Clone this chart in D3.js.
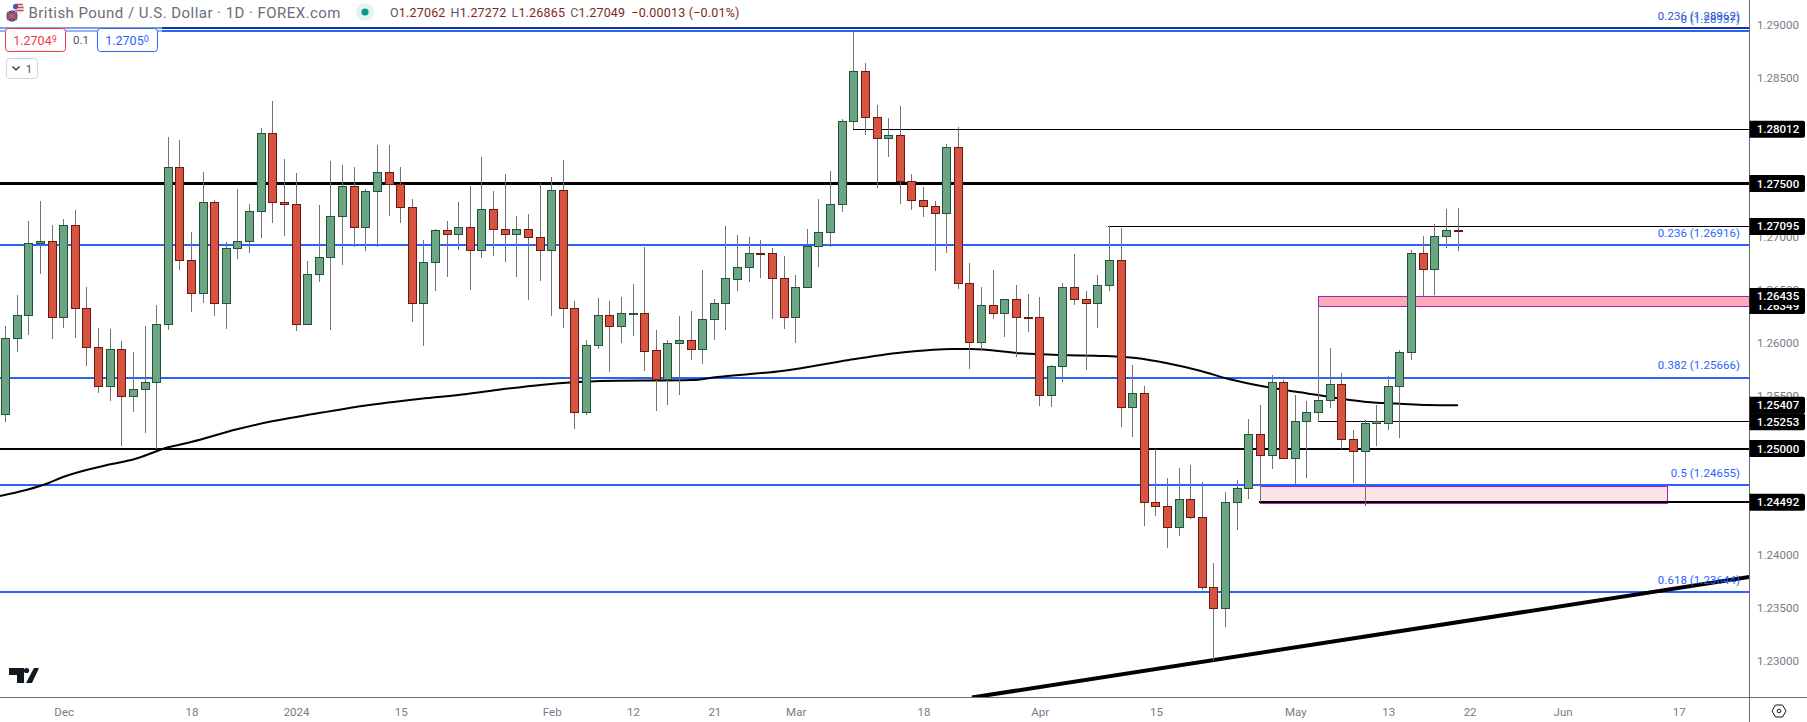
<!DOCTYPE html>
<html><head><meta charset="utf-8">
<style>html,body{margin:0;padding:0;background:#fff;overflow:hidden}svg{display:block}text{font-family:Roboto,sans-serif}</style>
<script src="https://cdn.jsdelivr.net/npm/d3@7/dist/d3.min.js"></script>
</head><body><svg id="c" width="1807" height="722"></svg>
<script>
const title = "British Pound / U.S. Dollar · 1D · FOREX.com";
const opens = [1.25330,1.26038,1.26264,1.26940,1.26953,1.26236,1.27104,1.26330,1.25953,1.25594,1.25934,1.25491,1.25557,1.25623,1.26170,1.27660,1.26783,1.26469,1.27321,1.26374,1.26896,1.26962,1.27245,1.27981,1.27330,1.27311,1.26170,1.26642,1.26811,1.27189,1.27481,1.27091,1.27425,1.27604,1.27500,1.27274,1.26374,1.26764,1.27057,1.27028,1.27085,1.26868,1.27255,1.27075,1.27019,1.27075,1.26991,1.26877,1.27434,1.26330,1.25346,1.25972,1.26255,1.26157,1.26280,1.26283,1.25925,1.25651,1.25991,1.26019,1.25940,1.26217,1.26374,1.26601,1.26708,1.26849,1.26840,1.26613,1.26242,1.26519,1.26915,1.27047,1.27311,1.28085,1.28566,1.28132,1.27925,1.27962,1.27528,1.27340,1.27292,1.27217,1.27849,1.26566,1.26009,1.26358,1.26274,1.26406,1.26236,1.26236,1.25506,1.25774,1.26519,1.26415,1.26368,1.26547,1.26774,1.25396,1.25528,1.24491,1.24453,1.24255,1.24528,1.24358,1.23689,1.23491,1.24491,1.24629,1.25141,1.24934,1.25623,1.24915,1.25264,1.25340,1.25462,1.25613,1.25085,1.24972,1.25236,1.25245,1.25585,1.25915,1.26849,1.26689,1.27009,1.27062];
const closes = [1.26038,1.26264,1.26943,1.26956,1.26236,1.27104,1.26330,1.25953,1.25594,1.25934,1.25491,1.25557,1.25623,1.26170,1.27660,1.26783,1.26469,1.27321,1.26374,1.26896,1.26962,1.27245,1.27981,1.27327,1.27308,1.26170,1.26642,1.26811,1.27189,1.27481,1.27091,1.27425,1.27604,1.27500,1.27274,1.26374,1.26764,1.27057,1.27028,1.27085,1.26868,1.27255,1.27075,1.27019,1.27075,1.26991,1.26877,1.27434,1.26330,1.25346,1.25972,1.26255,1.26157,1.26274,1.26283,1.25921,1.25651,1.25991,1.26019,1.25940,1.26217,1.26377,1.26604,1.26708,1.26849,1.26846,1.26613,1.26242,1.26519,1.26915,1.27047,1.27311,1.28085,1.28566,1.28132,1.27925,1.27962,1.27528,1.27340,1.27292,1.27217,1.27849,1.26566,1.26009,1.26358,1.26274,1.26406,1.26236,1.26233,1.25506,1.25774,1.26519,1.26415,1.26368,1.26547,1.26774,1.25396,1.25528,1.24491,1.24453,1.24255,1.24528,1.24358,1.23689,1.23491,1.24491,1.24629,1.25141,1.24934,1.25623,1.24912,1.25264,1.25340,1.25462,1.25613,1.25085,1.24972,1.25236,1.25255,1.25585,1.25915,1.26849,1.26689,1.27009,1.27062,1.27049];
const highs = [1.26154,1.26446,1.27145,1.27333,1.27107,1.27164,1.27248,1.26519,1.26135,1.26123,1.26013,1.25909,1.26154,1.26352,1.27937,1.27909,1.27041,1.27613,1.27343,1.26950,1.27447,1.27305,1.28022,1.28277,1.27730,1.27597,1.26767,1.27296,1.27711,1.27673,1.27654,1.27447,1.27862,1.27862,1.27654,1.27352,1.26965,1.27075,1.27145,1.27324,1.27475,1.27748,1.27428,1.27588,1.27192,1.27211,1.27506,1.27560,1.27720,1.26390,1.26028,1.26418,1.26390,1.26428,1.26550,1.26899,1.26116,1.26019,1.26248,1.26296,1.26682,1.26415,1.27097,1.27013,1.26994,1.26965,1.26890,1.26814,1.26635,1.27069,1.27352,1.27616,1.28107,1.28928,1.28635,1.28239,1.28116,1.28230,1.27588,1.27465,1.27333,1.27868,1.28031,1.26748,1.26522,1.26682,1.26415,1.26541,1.26456,1.26428,1.25786,1.26560,1.26833,1.26484,1.26635,1.27095,1.27079,1.25786,1.25588,1.24991,1.24720,1.24814,1.24843,1.24682,1.23918,1.24588,1.24701,1.25277,1.25409,1.25692,1.25645,1.25503,1.25447,1.26349,1.25947,1.25711,1.25173,1.25267,1.25409,1.25682,1.25928,1.26871,1.27003,1.27116,1.27258,1.27272];
const lows = [1.25252,1.25912,1.26069,1.26645,1.26031,1.26135,1.26041,1.25780,1.25519,1.25450,1.25025,1.25346,1.25148,1.25000,1.26116,1.26682,1.26286,1.26374,1.26248,1.26126,1.26786,1.26846,1.26984,1.27126,1.27003,1.26107,1.26164,1.26569,1.26116,1.26730,1.26899,1.26862,1.26899,1.27192,1.27126,1.26192,1.25965,1.26484,1.26616,1.26871,1.26494,1.26796,1.26814,1.26758,1.26616,1.26399,1.26579,1.26248,1.26135,1.25185,1.25314,1.25937,1.25723,1.25997,1.26060,1.25733,1.25355,1.25412,1.25506,1.25833,1.25796,1.26022,1.26116,1.26484,1.26569,1.26607,1.26220,1.26126,1.25997,1.26510,1.26711,1.26899,1.27230,1.28012,1.27956,1.27456,1.27748,1.27305,1.27248,1.27182,1.26673,1.26843,1.26503,1.25748,1.25918,1.26220,1.26050,1.25862,1.26097,1.25402,1.25393,1.25629,1.26352,1.25745,1.26135,1.26484,1.25204,1.25110,1.24270,1.24365,1.24063,1.24176,1.24333,1.23663,1.22997,1.23318,1.24230,1.24525,1.24492,1.24805,1.24899,1.24664,1.24720,1.25253,1.25380,1.24997,1.24673,1.24459,1.25022,1.25173,1.25097,1.25833,1.26437,1.26446,1.26890,1.26865];
const maIndex = [-0.48,3.65,4.94,8.73,11.05,13.98,15.96,19.91,22.93,25.85,30.84,35.75,39.71,42.29,46.25,48.92,51.15,59.07,61.05,66.99,72.58,77.49,81.45,83.08,87.38,90.65,94.61,97.28,99.87,102.79,105.37,108.55,111.39,115.7,117.16,120,122.32,125];
const maValue = [1.24552,1.24672,1.24731,1.24844,1.24898,1.25011,1.25061,1.25181,1.25257,1.25313,1.25404,1.25470,1.25514,1.25552,1.25602,1.25625,1.25637,1.25646,1.25672,1.25734,1.25835,1.25910,1.25939,1.25939,1.25898,1.25882,1.25873,1.25854,1.25807,1.25734,1.25653,1.25580,1.25530,1.25458,1.25439,1.25423,1.25410,1.25407];
const fibLevels = [1.28937,1.26916,1.25666,1.24655,1.23644];
const fibLabels = ["0 (1.28937)","0.236 (1.26916)","0.382 (1.25666)","0.5 (1.24655)","0.618 (1.23644)"];
const topFibLevel = 1.28967, topFibLabel = "0.236 (1.28962)";
const priceTicks = [1.29,1.285,1.28,1.275,1.27,1.265,1.26,1.255,1.25,1.245,1.24,1.235,1.23];
const badgeValues = [1.28012,1.27500,1.27095,1.26349,1.26435,1.25407,1.25253,1.25000,1.24492];
const timeTickIndex = [5,16,25,34,47,54,61,68,79,89,99,111,119,126,134,144];
const timeTickLabels = ["Dec","18","2024","15","Feb","12","21","Mar","18","Apr","15","May","13","22","Jun","17"];
const fullLines = [[1.27500,3],[1.25000,2]];
const partialLines = [[1.28012,73,1],[1.27095,95,1],[1.25253,113,1],[1.24492,108,2]];
const zones = [[1.26435,1.26349,113,null,"#fba9b6"],[1.24655,1.24492,108,143,"#fde4e4"]];
const trendIndex = [83.17,150.1], trendPrice = [1.22651,1.23788];
const ohlcLabels = ["O","H","L","C"], ohlcValues = ["1.27062","1.27272","1.26865","1.27049"], changeText = "−0.00013 (−0.01%)";
const bidText = ["1.2704","9"], askText = ["1.2705","0"], spreadText = "0.1";

const plotR = 1749, plotB = 697;
const x = d3.scaleLinear().domain([0,125]).range([5.6,1458]);
const y = d3.scaleLinear().domain([1.29,1.23]).range([24.5,660.5]);
const svg = d3.select("#c");
const crisp = (v,w)=> w%2 ? Math.floor(v)+.5 : Math.round(v);
const BLUE="#2962ff", INK="#787b86";
svg.append("defs").append("clipPath").attr("id","plot").append("rect").attr("x",0).attr("y",0).attr("width",plotR).attr("height",plotB);
const plot = svg.append("g").attr("clip-path","url(#plot)");

// zones (the lower zone's edges sit one row under the lines drawn at its bounds)
plot.selectAll("rect.zone").data(zones).join("rect").attr("class","zone")
 .attr("x",d=>Math.floor(x(d[2]))+.5).attr("y",d=>Math.round(y(d[0]))+.5+(d[3]==null?0:1))
 .attr("width",d=>(d[3]==null?plotR+2:Math.floor(x(d[3])))-Math.floor(x(d[2])))
 .attr("height",d=>Math.round(y(d[1]))-Math.round(y(d[0])))
 .attr("fill",d=>d[4]).attr("stroke","#a51fc1").attr("stroke-width",1);
// fib lines
const hl = plot.append("g").attr("shape-rendering","crispEdges");
hl.append("line").attr("x1",0).attr("x2",plotR).attr("y1",crisp(y(topFibLevel),2)).attr("y2",crisp(y(topFibLevel),2)).attr("stroke","#0f3a9c").attr("stroke-width",2);
hl.selectAll("line.fib").data(fibLevels).join("line").attr("class","fib").attr("x1",0).attr("x2",plotR)
 .attr("y1",d=>crisp(y(d),2)).attr("y2",d=>crisp(y(d),2)).attr("stroke",BLUE).attr("stroke-width",2);
hl.selectAll("line.full").data(fullLines).join("line").attr("class","full").attr("x1",0).attr("x2",plotR)
 .attr("y1",d=>crisp(y(d[0]),d[1])).attr("y2",d=>crisp(y(d[0]),d[1])).attr("stroke","#000").attr("stroke-width",d=>d[1]);
hl.selectAll("line.part").data(partialLines).join("line").attr("class","part").attr("x1",d=>x(d[1])-1).attr("x2",plotR)
 .attr("y1",d=>crisp(y(d[0]),d[2])).attr("y2",d=>crisp(y(d[0]),d[2])).attr("stroke","#000").attr("stroke-width",d=>d[2]);
// fib labels
const fibG = svg.append("g").attr("font-size",11.4).attr("text-anchor","end").attr("letter-spacing",0.1);
fibG.append("text").attr("x",1740).attr("y",19.5).attr("fill","#2f52c0").text(topFibLabel);
fibG.selectAll("text.f").data(fibLevels).join("text").attr("class","f").attr("x",1740).attr("y",(d,i)=>i==0?22.5:y(d)-8.5).attr("fill",(d,i)=>i==0?"#2f6ae8":BLUE).text((d,i)=>fibLabels[i]);
// moving average
plot.append("path").datum(maIndex.map((d,i)=>[d,maValue[i]])).attr("fill","none").attr("stroke","#000").attr("stroke-width",2)
 .attr("d",d3.line().x(d=>x(d[0])).y(d=>y(d[1])).curve(d3.curveMonotoneX));
// trend line
plot.append("line").attr("x1",x(trendIndex[0])).attr("y1",y(trendPrice[0])).attr("x2",x(trendIndex[1])).attr("y2",y(trendPrice[1])).attr("stroke","#000").attr("stroke-width",4);
// candles
const candles = opens.map((o,i)=>({i,o,c:closes[i],h:highs[i],l:lows[i]}));
const cg = plot.selectAll("g.k").data(candles).join("g").attr("class","k").attr("shape-rendering","crispEdges");
cg.append("line").attr("x1",d=>Math.floor(x(d.i))+.5).attr("x2",d=>Math.floor(x(d.i))+.5).attr("y1",d=>Math.round(y(d.h))).attr("y2",d=>Math.round(y(d.l))).attr("stroke","#737375").attr("stroke-width",1);
cg.append("rect").attr("x",d=>Math.floor(x(d.i))-3.5).attr("width",8)
 .attr("y",d=>Math.round(y(Math.max(d.o,d.c)))+.5)
 .attr("height",d=>Math.max(1,Math.round(y(Math.min(d.o,d.c)))-Math.round(y(Math.max(d.o,d.c)))))
 .attr("fill",d=>d.c>=d.o?"#6ba583":"#d75442").attr("stroke",d=>d.c>=d.o?"#225437":"#6b1a10").attr("stroke-width",1);

// axes
const xAxis = d3.axisBottom(x).tickValues(timeTickIndex).tickSize(0).tickPadding(0).tickFormat((d,i)=>timeTickLabels[i]);
const ax = svg.append("g").attr("transform",`translate(0,${plotB+.5})`).call(xAxis);
ax.select(".domain").remove();
ax.selectAll("text").attr("y",18).attr("dy",0).attr("fill",INK).attr("font-size",11.5).attr("font-family","Roboto");
const yAxis = d3.axisRight(y).tickValues(priceTicks).tickSize(0).tickPadding(0).tickFormat(d3.format(".5f"));
const ay = svg.append("g").attr("transform",`translate(${plotR},0)`).call(yAxis);
ay.select(".domain").remove();
ay.selectAll("text").attr("x",29).attr("text-anchor","middle").attr("fill",INK).attr("font-size",11.5).attr("font-family","Roboto");
const fr = svg.append("g").attr("shape-rendering","crispEdges").attr("stroke","#6a6d78");
fr.append("line").attr("x1",plotR+.5).attr("x2",plotR+.5).attr("y1",0).attr("y2",722);
fr.append("line").attr("x1",0).attr("x2",1807).attr("y1",plotB+.5).attr("y2",plotB+.5);
// badges
const bg = svg.selectAll("g.b").data(badgeValues).join("g").attr("class","b").attr("transform",d=>`translate(${plotR+.5},${y(d)})`);
bg.append("path").attr("d","M0,-8.5H53.5a2,2 0 0 1 2,2V6.5a2,2 0 0 1 -2,2H0Z").attr("fill","#000");
bg.append("text").attr("x",28.5).attr("dy","0.35em").attr("text-anchor","middle").attr("fill","#fff").attr("font-size",11.5).attr("font-weight",500).text(d=>d3.format(".5f")(d));
// hex icon
svg.append("path").attr("d","M1772,711l3.5,-6h7l3.5,6l-3.5,6h-7Z").attr("fill","none").attr("stroke","#131722").attr("stroke-width",1);
svg.append("circle").attr("cx",1779).attr("cy",711).attr("r",1.8).attr("fill","none").attr("stroke","#131722");
// logo
svg.append("path").attr("d","M9,668H24V683H17V675H9Z M34,668H39L32,683H26Z").attr("fill","#131722");
svg.append("circle").attr("cx",26.5).attr("cy",670.5).attr("r",2.6).attr("fill","#131722");

// header
const hd = svg.append("g");
hd.append("rect").attr("x",0).attr("y",27).attr("width",162).attr("height",5).attr("fill","#fff").attr("opacity",.5);
hd.append("circle").attr("cx",18.5).attr("cy",9).attr("r",5.8).attr("fill","#e9eef8");
hd.append("path").attr("d","M15,4.5h8M13.5,7.5h10M13.5,10.5h10").attr("stroke","#e0444c").attr("stroke-width",1.4);
hd.append("circle").attr("cx",15.5).attr("cy",6.5).attr("r",2.6).attr("fill","#3a5fb5");
hd.append("circle").attr("cx",12).attr("cy",16).attr("r",6).attr("fill","#34558f").attr("stroke","#fff").attr("stroke-width",.8);
hd.append("path").attr("d","M7,12L17,20M17,12L7,20M12,10V22M6,16H18").attr("stroke","#e25560").attr("stroke-width",1.2);
hd.append("text").attr("x",28.5).attr("y",18).attr("font-size",15).attr("fill","#6a6d78").attr("textLength",312).text(title);
hd.append("circle").attr("cx",365).attr("cy",12).attr("r",9).attr("fill","#e3f3f0");
hd.append("circle").attr("cx",365).attr("cy",12).attr("r",3.6).attr("fill","#089981");
const ot = hd.append("text").attr("x",390).attr("y",17).attr("font-size",12.5).attr("letter-spacing",0.19);
ohlcLabels.forEach((l,i)=>{ ot.append("tspan").attr("fill","#5f5a60").attr("dx",i?5:0).text(l); ot.append("tspan").attr("fill","#7a2a22").text(ohlcValues[i]); });
ot.append("tspan").attr("fill","#7a2a22").attr("dx",6).text(changeText);
function box(xp,w,col,t){
 hd.append("rect").attr("x",xp+.5).attr("y",28.5).attr("width",w).attr("height",23).attr("rx",3).attr("fill","#fff").attr("stroke",col);
 const tx=hd.append("text").attr("x",xp+w/2).attr("y",45).attr("text-anchor","middle").attr("fill",col).attr("font-size",12.5);
 tx.append("tspan").text(t[0]); tx.append("tspan").attr("font-size",9).attr("dy",-3.5).text(t[1]);
}
box(5,60,"#f23645",bidText); box(97,60,BLUE,askText);
hd.append("text").attr("x",81).attr("y",44).attr("text-anchor","middle").attr("fill","#50535e").attr("font-size",11.5).text(spreadText);
hd.append("rect").attr("x",6.5).attr("y",58.5).attr("width",31).attr("height",20).attr("rx",3).attr("fill","#fff").attr("stroke","#d1d4dc");
hd.append("path").attr("d","M12.5,66.5l3.5,3.5l3.5,-3.5").attr("fill","none").attr("stroke","#131722").attr("stroke-width",1.1);
hd.append("text").attr("x",29).attr("y",73).attr("text-anchor","middle").attr("fill","#50535e").attr("font-size",11.5).text("1");
</script></body></html>
